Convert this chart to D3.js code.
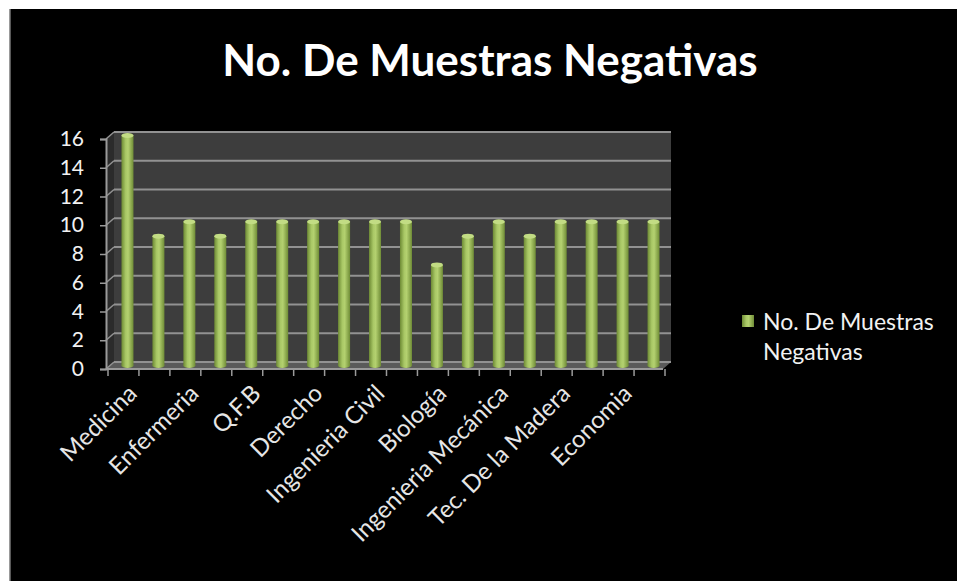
<!DOCTYPE html>
<html>
<head>
<meta charset="utf-8">
<script src="https://cdn.jsdelivr.net/npm/d3@7"></script>
<style>
  html, body { margin: 0; padding: 0; background: #fff; overflow: hidden; }
  svg { display: block; }
  text { font-family: Lato, "Open Sans", sans-serif; }
</style>
</head>
<body>
<svg id="chart"></svg>
<script>
// categories (only every other one gets a visible label, as in the original)
const categories = [
  "Medicina", "Odontología", "Enfermeria", "Psicología", "Q.F.B", "Contaduría",
  "Derecho", "Arquitectura", "Ingenieria Civil", "Ingenieria Química", "Biología",
  "Ingenieria Eléctrica", "Ingenieria Mecánica", "Agrobiología", "Tec. De la Madera",
  "Veterinaria", "Economia", "Filosofía"
];
const values = [16, 9, 10, 9, 10, 10, 10, 10, 10, 10, 7, 9, 10, 9, 10, 10, 10, 10];
const yTicks = [0, 2, 4, 6, 8, 10, 12, 14, 16];
const title = "No. De Muestras Negativas";

const width = 957, height = 581;
const svg = d3.select("#chart").attr("width", width).attr("height", height);

// black slide background with a thin white margin top/left
svg.append("rect").attr("x", 0).attr("y", 0).attr("width", width).attr("height", height).attr("fill", "#fff");
svg.append("rect").attr("x", 10).attr("y", 9).attr("width", width - 10).attr("height", height - 9)
  .attr("fill", "#000");
svg.append("line").attr("x1", 10).attr("x2", 10).attr("y1", 9).attr("y2", height)
  .attr("stroke", "#777").attr("stroke-width", 1.5);

const plot = { left: 106, right: 663, top: 139, bottom: 369 };
const depth = { dx: 8, dy: -7 };

const x = d3.scaleBand().domain(categories).range([plot.left, plot.right]);
const y = d3.scaleLinear().domain([0, 16]).range([plot.bottom, plot.top]);

const defs = svg.append("defs");
const grad = defs.append("linearGradient").attr("id", "barGrad").attr("x1", "0%").attr("x2", "100%");
grad.append("stop").attr("offset", "0%").attr("stop-color", "#6d8a34");
grad.append("stop").attr("offset", "35%").attr("stop-color", "#a9c866");
grad.append("stop").attr("offset", "55%").attr("stop-color", "#b4d170");
grad.append("stop").attr("offset", "100%").attr("stop-color", "#6f8c36");

const g = svg.append("g");
const x0 = plot.left, x1 = plot.right, yb = y(0), yt = y(16);
const pts = p => p.map(d => d.join(",")).join(" ");

// side wall, floor and back wall
g.append("polygon")
  .attr("points", pts([[x0, yb], [x0, yt], [x0 + depth.dx, yt + depth.dy], [x0 + depth.dx, yb + depth.dy]]))
  .attr("fill", "#2b2b2b");
g.append("polygon")
  .attr("points", pts([[x0, yb], [x1, yb], [x1 + depth.dx, yb + depth.dy], [x0 + depth.dx, yb + depth.dy]]))
  .attr("fill", "#5a5a5a");
g.append("rect")
  .attr("x", x0 + depth.dx).attr("y", yt + depth.dy)
  .attr("width", x1 - x0).attr("height", yb - yt)
  .attr("fill", "#3d3d3d");

// gridlines on the back wall + diagonals on the side wall
g.selectAll(".grid").data(yTicks).join("line")
  .attr("x1", x0 + depth.dx).attr("x2", x1 + depth.dx)
  .attr("y1", d => y(d) + depth.dy).attr("y2", d => y(d) + depth.dy)
  .attr("stroke", "#929292").attr("stroke-width", 2);
g.selectAll(".diag").data(yTicks).join("line")
  .attr("x1", x0).attr("x2", x0 + depth.dx)
  .attr("y1", d => y(d)).attr("y2", d => y(d) + depth.dy)
  .attr("stroke", "#929292").attr("stroke-width", 1.5);

// bars (cylinders)
const bw = 12;
const bars = g.selectAll(".bar").data(values).join("g").attr("class", "bar");
const bx = (d, i) => x(categories[i]) + x.bandwidth() / 2 + depth.dx / 2 + 2;
const by = d => y(d) + depth.dy / 2;
bars.append("rect")
  .attr("x", (d, i) => bx(d, i) - bw / 2)
  .attr("y", d => by(d))
  .attr("width", bw)
  .attr("height", d => y(0) + depth.dy / 2 - by(d))
  .attr("fill", "url(#barGrad)");
bars.append("ellipse")
  .attr("cx", (d, i) => bx(d, i))
  .attr("cy", y(0) + depth.dy / 2)
  .attr("rx", bw / 2).attr("ry", 2.5)
  .attr("fill", "url(#barGrad)");
bars.append("ellipse")
  .attr("cx", (d, i) => bx(d, i))
  .attr("cy", d => by(d))
  .attr("rx", bw / 2).attr("ry", 2.5)
  .attr("fill", "#c2dc84");

// y axis
const yAxis = svg.append("g")
  .attr("transform", `translate(${x0},0)`)
  .call(d3.axisLeft(y).tickValues(yTicks).tickSize(6).tickPadding(16));
yAxis.select(".domain").attr("stroke", "#9a9a9a").attr("stroke-width", 2);
yAxis.selectAll(".tick line").attr("stroke", "#9a9a9a").attr("stroke-width", 1.5);
yAxis.selectAll(".tick text").attr("fill", "#f2f2f2").attr("font-size", 21).attr("font-family", "Lato");

// x axis line and boundary ticks
svg.append("line")
  .attr("x1", x0).attr("x2", x1).attr("y1", yb).attr("y2", yb)
  .attr("stroke", "#9a9a9a").attr("stroke-width", 2);
const bounds = categories.map(c => x(c)).concat([x1]);
svg.selectAll(".xtick").data(bounds).join("line")
  .attr("x1", d => d + 2).attr("x2", d => d + 2)
  .attr("y1", yb).attr("y2", yb + 7)
  .attr("stroke", "#9a9a9a").attr("stroke-width", 1.5);

// category labels, every other one
svg.selectAll(".xlabel").data(categories.filter((c, i) => i % 2 === 0)).join("text")
  .attr("transform", d => `translate(${x(d) + x.bandwidth() / 2 + 11},${yb + 20}) rotate(-45)`)
  .attr("text-anchor", "end")
  .attr("dy", "0.35em")
  .attr("fill", "#e6e6e6")
  .attr("font-size", 24)
  .text(d => d);

// title
svg.append("text")
  .attr("x", 490).attr("y", 76)
  .attr("text-anchor", "middle")
  .attr("fill", "#fff")
  .attr("font-size", 44)
  .attr("font-weight", "bold")
  .text(title);

// legend
const lg = svg.append("g").attr("transform", "translate(742,315)");
lg.append("rect").attr("width", 12).attr("height", 12).attr("fill", "url(#barGrad)");
lg.append("text").attr("x", 21).attr("y", 15).attr("fill", "#f2f2f2").attr("font-size", 23)
  .text("No. De Muestras");
lg.append("text").attr("x", 21).attr("y", 45).attr("fill", "#f2f2f2").attr("font-size", 23)
  .text("Negativas");
</script>
</body>
</html>
